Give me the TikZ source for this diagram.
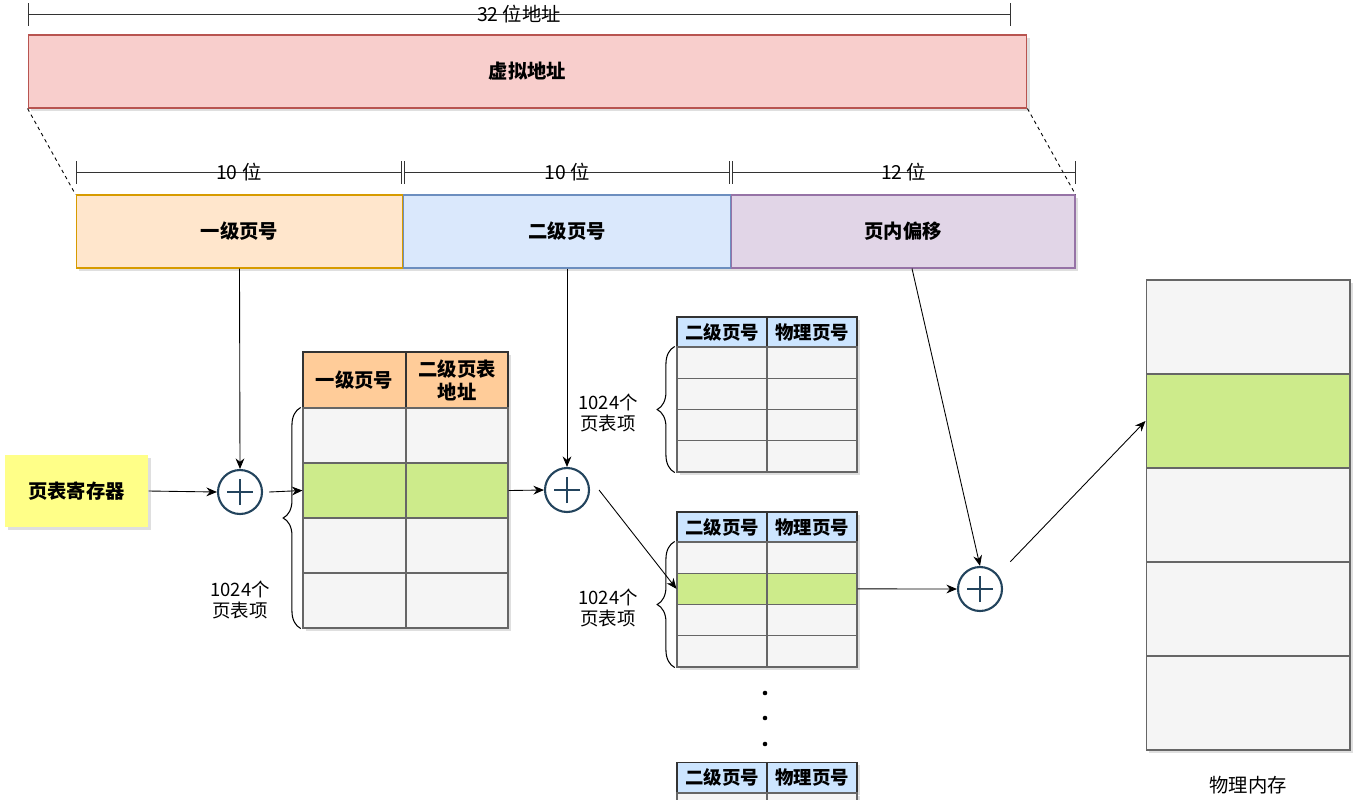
\documentclass[tikz,border=0pt]{standalone}
\usepackage{fontspec}
\setmainfont{Noto Sans CJK SC}
\usetikzlibrary{arrows.meta,decorations.pathreplacing,shadows}
\definecolor{vafill}{HTML}{F8CECC}\definecolor{valine}{HTML}{B85450}
\definecolor{l1fill}{HTML}{FFE6CC}\definecolor{l1line}{HTML}{D79B00}
\definecolor{l2fill}{HTML}{DAE8FC}\definecolor{l2line}{HTML}{6C8EBF}
\definecolor{offfill}{HTML}{E1D5E7}\definecolor{offline}{HTML}{9673A6}
\definecolor{regfill}{HTML}{FFFF88}
\definecolor{cellgray}{HTML}{F5F5F5}\definecolor{cellline}{HTML}{666666}
\definecolor{hitgreen}{HTML}{CDEB8B}
\definecolor{hdrorange}{HTML}{FFCC99}\definecolor{hdrblue}{HTML}{CCE5FF}
\definecolor{opblue}{HTML}{23445D}
\tikzset{
  sketch/.style={line width=0.6pt, inner sep=0pt, drop shadow={shadow xshift=1.5pt, shadow yshift=-1.5pt, opacity=0.25}},
  vbox/.style={sketch, minimum height=1.46cm, font=\fontsize{11}{13}\selectfont\bfseries},
  hdr/.style={sketch, draw=black!80, align=center, font=\fontsize{11}{13}\selectfont\bfseries},
  cell/.style={sketch, draw=cellline},
  lbl/.style={inner sep=0pt, font=\fontsize{11}{13}\selectfont},
  note/.style={inner sep=0pt, align=center, font=\fontsize{10.5}{12.5}\selectfont},
  dimline/.style={draw=black!80, line width=0.5pt, {Bar[width=0.45cm]}-{Bar[width=0.45cm]}},
  guide/.style={draw=black, line width=0.5pt, dash pattern=on 2pt off 2pt},
  flow/.style={draw=black, line width=0.5pt, -{Stealth[length=6pt,width=5pt]}},
  curly/.style={draw=black, line width=0.6pt, decorate, decoration={brace, amplitude=10pt}},
  addop/.style={circle, draw=opblue, line width=1.2pt, fill=white, minimum size=0.88cm, inner sep=0pt,
    path picture={\draw[opblue, line width=1.2pt]
      ([xshift=-0.26cm]path picture bounding box.center) -- ([xshift=0.26cm]path picture bounding box.center)
      ([yshift=-0.26cm]path picture bounding box.center) -- ([yshift=0.26cm]path picture bounding box.center);}}
}
\begin{document}
\begin{tikzpicture}[x=0.02cm, y=-0.02cm]
  \useasboundingbox (0,0) rectangle (1359,799);
  \node[vbox, fill=vafill, draw=valine, minimum width=19.98cm] (va) at (527.5,71.5) {虚拟地址};
  \draw[dimline] ([yshift=0.4cm]va.north west) -- ([xshift=-0.34cm,yshift=0.4cm]va.north east) node[lbl, midway] (bits32) {32 位地址};
  \node[vbox, fill=l1fill, draw=l1line, minimum width=6.54cm] (l1) at (239.5,231.5) {一级页号};
  \node[vbox, fill=l2fill, draw=l2line, minimum width=6.56cm] (l2) at (567,231.5) {二级页号};
  \node[vbox, fill=offfill, draw=offline, minimum width=6.88cm] (off) at (903,231.5) {页内偏移};
  \draw[guide] (va.south west) -- (l1.north west);
  \draw[guide] (va.south east) -- (off.north east);
  \draw[dimline] ([yshift=0.44cm]l1.north west) -- ([xshift=-0.8pt,yshift=0.44cm]l1.north east) node[lbl, midway] (bits1) {10 位};
  \draw[dimline] ([xshift=0.8pt,yshift=0.44cm]l2.north west) -- ([xshift=-0.8pt,yshift=0.44cm]l2.north east) node[lbl, midway] (bits2) {10 位};
  \draw[dimline] ([xshift=0.8pt,yshift=0.44cm]off.north west) -- ([yshift=0.44cm]off.north east) node[lbl, midway] (bits3) {12 位};

  \node[sketch, fill=regfill, minimum width=2.86cm, minimum height=1.44cm, font=\fontsize{11}{13}\selectfont\bfseries] (reg) at (76.5,491) {页表寄存器};
  \node[addop] (p1) at (240,492) {};
  \node[addop] (p2) at (567,490) {};
  \node[addop] (p3) at (980,589) {};

  \node[hdr, fill=hdrorange, minimum width=2.06cm, minimum height=1.12cm] (t1ha) at (354.5,380) {一级页号};
  \node[hdr, fill=hdrorange, minimum width=2.04cm, minimum height=1.12cm] (t1hb) at (457,380) {二级页表\\地址};
  \foreach \i/\c in {1/cellgray,2/hitgreen,3/cellgray,4/cellgray} {
    \node[cell, fill=\c, minimum width=2.06cm, minimum height=1.1cm] (t1a\i) at (354.5,{380.5+55*\i}) {};
    \node[cell, fill=\c, minimum width=2.04cm, minimum height=1.1cm] (t1b\i) at (457,{380.5+55*\i}) {};
  }
  \draw[curly] ([xshift=-1pt]t1a4.south west) -- ([xshift=-1pt]t1a1.north west);
  \node[note] (t1note) at (240,600) {1024个\\页表项};

  \node[hdr, fill=hdrblue, minimum width=1.8cm, minimum height=0.6cm, font=\fontsize{10.5}{12}\selectfont\bfseries] (sha) at (722,332) {二级页号};
  \node[hdr, fill=hdrblue, minimum width=1.8cm, minimum height=0.6cm, font=\fontsize{10.5}{12}\selectfont\bfseries] (shb) at (812,332) {物理页号};
  \foreach \i/\c in {1/cellgray,2/cellgray,3/cellgray,4/cellgray} {
    \node[cell, fill=\c, minimum width=1.8cm, minimum height=0.625cm] (sa\i) at (722,{331.375+31.25*\i}) {};
    \node[cell, fill=\c, minimum width=1.8cm, minimum height=0.625cm] (sb\i) at (812,{331.375+31.25*\i}) {};
  }
  \draw[curly] ([xshift=-1pt]sa4.south west) -- ([xshift=-1pt]sa1.north west);
  \node[note] (snote) at (608,413) {1024个\\页表项};

  \node[hdr, fill=hdrblue, minimum width=1.8cm, minimum height=0.6cm, font=\fontsize{10.5}{12}\selectfont\bfseries] (tha) at (722,527) {二级页号};
  \node[hdr, fill=hdrblue, minimum width=1.8cm, minimum height=0.6cm, font=\fontsize{10.5}{12}\selectfont\bfseries] (thb) at (812,527) {物理页号};
  \foreach \i/\c in {1/cellgray,2/hitgreen,3/cellgray,4/cellgray} {
    \node[cell, fill=\c, minimum width=1.8cm, minimum height=0.625cm] (ta\i) at (722,{526.375+31.25*\i}) {};
    \node[cell, fill=\c, minimum width=1.8cm, minimum height=0.625cm] (tb\i) at (812,{526.375+31.25*\i}) {};
  }
  \draw[curly] ([xshift=-1pt]ta4.south west) -- ([xshift=-1pt]ta1.north west);
  \node[note] (tnote) at (608,608) {1024个\\页表项};

  \foreach \y in {693,718,744}
    \fill (765,\y) circle (1.3pt);

  \node[hdr, fill=hdrblue, minimum width=1.8cm, minimum height=0.6cm, font=\fontsize{10.5}{12}\selectfont\bfseries] (uha) at (722,777.5) {二级页号};
  \node[hdr, fill=hdrblue, minimum width=1.8cm, minimum height=0.6cm, font=\fontsize{10.5}{12}\selectfont\bfseries] (uhb) at (812,777.5) {物理页号};
  \node[cell, fill=cellgray, minimum width=1.8cm, minimum height=0.625cm] (ua1) at (722,808.6) {};
  \node[cell, fill=cellgray, minimum width=1.8cm, minimum height=0.625cm] (ub1) at (812,808.6) {};

  \foreach \i/\c in {1/cellgray,2/hitgreen,3/cellgray,4/cellgray,5/cellgray}
    \node[cell, fill=\c, minimum width=4.08cm, minimum height=1.88cm] (m\i) at (1248,{233+94*\i}) {};
  \node[lbl] (memlbl) at (1248,785) {物理内存};

  \draw[flow] (reg.east) -- (p1.west);
  \draw[flow] (l1.south) -- (p1.north);
  \draw[flow] ([xshift=0.12cm]p1.east) -- (t1a2.west);
  \draw[flow] (t1b2.east) -- (p2.west);
  \draw[flow] (l2.south) -- (p2.north);
  \draw[flow] ([xshift=0.18cm]p2.east) -- (ta2.west);
  \draw[flow] (tb2.east) -- (p3.west);
  \draw[flow] ([xshift=0.18cm]off.south) -- (p3.north);
  \draw[flow] ([xshift=0.28cm,yshift=0.22cm]p3.north east) -- (m2.west);
\end{tikzpicture}
\end{document}
